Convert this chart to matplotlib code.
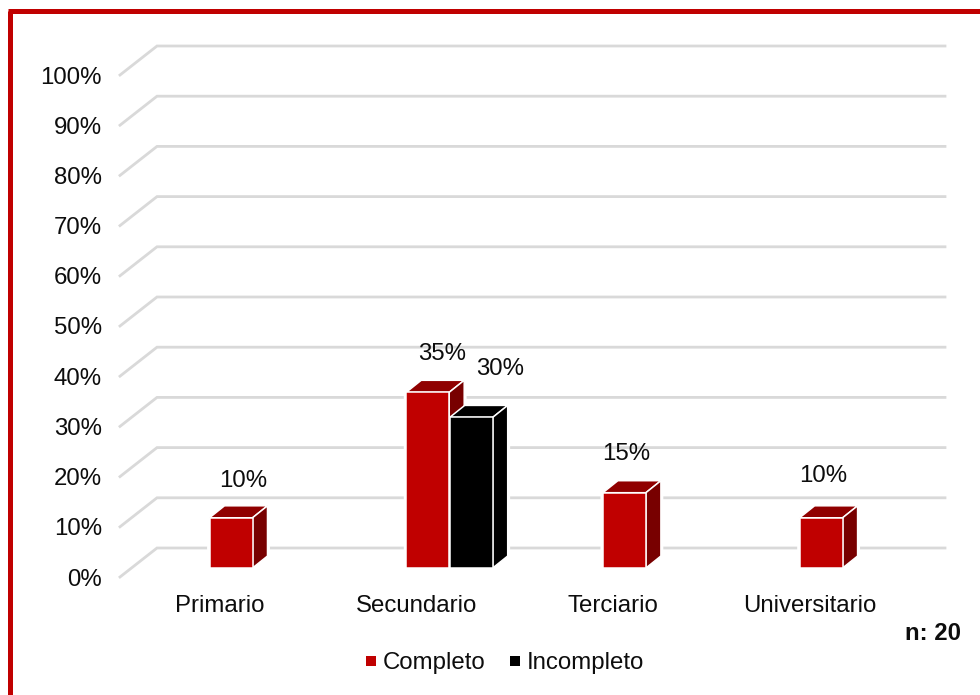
#!/usr/bin/env python3
"""Nivel educativo: fake-3D column chart with a red frame."""

import matplotlib

matplotlib.use("Agg")
import matplotlib.pyplot as plt
from matplotlib.patches import Polygon, Rectangle

categories = ["Primario", "Secundario", "Terciario", "Universitario"]
completo = [10, 35, 15, 10]
incompleto = [None, 30, None, None]
y_ticks = list(range(0, 101, 10))
series_names = ["Completo", "Incompleto"]
note = "n: 20"

WIDTH, HEIGHT = 980, 695
PX_X = 196.7  # pixels per category
PX_Y = 5.02  # pixels per percent
RED, RED_TOP, RED_SIDE = "#C00000", "#900000", "#780000"
BLACK = "#000000"
GRID = "#D9D9D9"
TEXT = "#0D0D0D"
FONT = 17.3


def px_x(px):
    return (px - 220) / PX_X


def px_y(px):
    return (568 - px) / PX_Y


def draw_bar(ax, left, value, face, top, side):
    # front face, then the top and side faces pushed back by a fixed depth
    width = 43 / PX_X
    dx = 15 / PX_X
    dy = 12 / PX_Y
    right = left + width
    outline = [(left, 0), (right, 0), (right + dx, dy), (right + dx, value + dy),
               (left + dx, value + dy), (left, value)]
    # white halo so the gridlines stop short of the bar
    ax.add_patch(Polygon(outline, facecolor="white", edgecolor="white", linewidth=3.5, zorder=2))
    edge = dict(edgecolor="white", linewidth=1.1, joinstyle="miter", zorder=3)
    ax.add_patch(Polygon([(left, value), (left + dx, value + dy), (right + dx, value + dy), (right, value)],
                         facecolor=top, **edge))
    ax.add_patch(Polygon([(right, 0), (right + dx, dy), (right + dx, value + dy), (right, value)],
                         facecolor=side, **edge))
    ax.add_patch(Rectangle((left, 0), width, value, facecolor=face, **edge))


def main():
    plt.rcParams["font.family"] = ["Liberation Sans", "DejaVu Sans"]
    fig = plt.figure(figsize=(WIDTH / 100, HEIGHT / 100), dpi=100)
    ax = fig.add_axes([0, 0, 1, 1])
    ax.set_xlim(px_x(0), px_x(WIDTH))
    ax.set_ylim(px_y(HEIGHT), px_y(0))
    ax.axis("off")

    # walls: gridlines run along the back, then slant down to the front
    for tick in y_ticks:
        back = tick + px_y(548)
        front = tick + px_y(577)
        ax.plot([px_x(120), px_x(157), px_x(945)], [front, back, back],
                color=GRID, linewidth=2.0, solid_joinstyle="miter", zorder=1)
        ax.text(px_x(102), tick + px_y(579.5), f"{tick}%", ha="right", va="center", fontsize=FONT, color=TEXT)

    label_shift = [(34, 37), (36, 38), (23, 39), (24, 42)]
    label_shift_black = [None, (50, 48), None, None]
    for i, name in enumerate(categories):
        left = i + (209.5 - 220) / PX_X
        draw_bar(ax, left, completo[i], RED, RED_TOP, RED_SIDE)
        ax.annotate(f"{completo[i]}%", (left, completo[i]), xytext=label_shift[i],
                    textcoords="offset pixels", ha="center", va="center", fontsize=FONT, color=TEXT)
        if incompleto[i] is not None:
            second = left + 43.5 / PX_X
            draw_bar(ax, second, incompleto[i], BLACK, BLACK, BLACK)
            ax.annotate(f"{incompleto[i]}%", (second, incompleto[i]), xytext=label_shift_black[i],
                        textcoords="offset pixels", ha="center", va="center", fontsize=FONT, color=TEXT)
        ax.text(i, px_y(606.5), name, ha="center", va="center", fontsize=FONT, color=TEXT)

    # legend is placed by hand to sit tight like the office one
    ax.add_patch(Rectangle((px_x(366), px_y(666)), 10 / PX_X, 10 / PX_Y, facecolor=RED, edgecolor="none"))
    ax.text(px_x(383), px_y(662.5), series_names[0], ha="left", va="center", fontsize=FONT, color=TEXT)
    ax.add_patch(Rectangle((px_x(510), px_y(666)), 10 / PX_X, 10 / PX_Y, facecolor=BLACK, edgecolor="none"))
    ax.text(px_x(527), px_y(662.5), series_names[1], ha="left", va="center", fontsize=FONT, color=TEXT)

    ax.text(px_x(961), px_y(633), note, ha="right", va="center", fontsize=17.2, fontweight="bold", color=TEXT)

    # red frame, open at the right and bottom edges of the image
    frame = dict(color=RED, linewidth=3.6, solid_capstyle="butt", zorder=5)
    ax.plot([px_x(10.5), px_x(10.5)], [px_y(HEIGHT), px_y(10.5)], **frame)
    ax.plot([px_x(8), px_x(WIDTH)], [px_y(10.5), px_y(10.5)], **frame)

    fig.savefig("out.png", dpi=100)


if __name__ == "__main__":
    main()
